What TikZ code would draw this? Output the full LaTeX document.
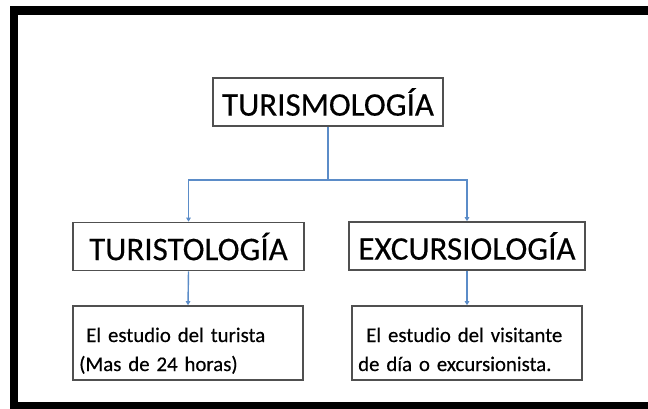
\documentclass[tikz,border=0pt]{standalone}
\usepackage{fontspec}
\setmainfont{Carlito}
\newfontfamily\heavyfont{Carlito}[FakeBold=0.35,WordSpace=0.75]
\usetikzlibrary{arrows.meta}
\definecolor{connblue}{RGB}{91,140,200}
\definecolor{boxline}{RGB}{80,80,80}
\begin{document}
\begin{tikzpicture}[x=1pt,y=-1pt,
  titlebox/.style={draw=boxline, line width=1.6pt, fill=white, inner sep=0pt,
    font=\heavyfont\fontsize{33}{38}\selectfont, minimum height=48pt},
  descbox/.style={draw=boxline, line width=1.6pt, fill=white, inner sep=0pt,
    minimum width=230pt, minimum height=74pt},
  desctext/.style={inner sep=0pt, anchor=base west, align=left, text width=220pt,
    font=\heavyfont\fontsize{20.8}{29}\selectfont},
  conn/.style={draw=connblue, line width=1.4pt},
  connarrow/.style={conn, -{Triangle[length=4pt,width=4.5pt]}}]
\useasboundingbox (0,0) rectangle (648,409);
\fill[white] (0,0) rectangle (648,409);
% black frame
\fill[black] (10,6) rectangle (648,15);
\fill[black] (10,6) rectangle (18,409);
\fill[black] (10,402) rectangle (648,409);
% boxes
\node[titlebox, minimum width=230pt] (top) at (328,102) {TURISMOLOGÍA};
\node[titlebox, minimum width=231pt] (tl) at (188.5,246.5) {TURISTOLOGÍA};
\node[titlebox, minimum width=236pt] (tr) at (467,246) {EXCURSIOLOGÍA};
\node[descbox] (bl) at (188,343) {};
\node[descbox] (br) at (467,343) {};
\node[desctext] (blt) at (79,342) {\hspace*{7pt}El estudio del turista\\(Mas de 24 horas)};
\node[desctext] (brt) at (358,342) {\hspace*{8pt}El estudio del visitante\\de día o excursionista.};
% connectors
\path (top.south) ++(0,53) coordinate (j);
\draw[conn] (top.south) -- (j);
\draw[connarrow] (j) -| (tl.north);
\draw[connarrow] (j) -| (tr.north);
\draw[connarrow] (tl.south) -- (bl.north);
\draw[connarrow] (tr.south) -- (br.north);
\end{tikzpicture}
\end{document}
